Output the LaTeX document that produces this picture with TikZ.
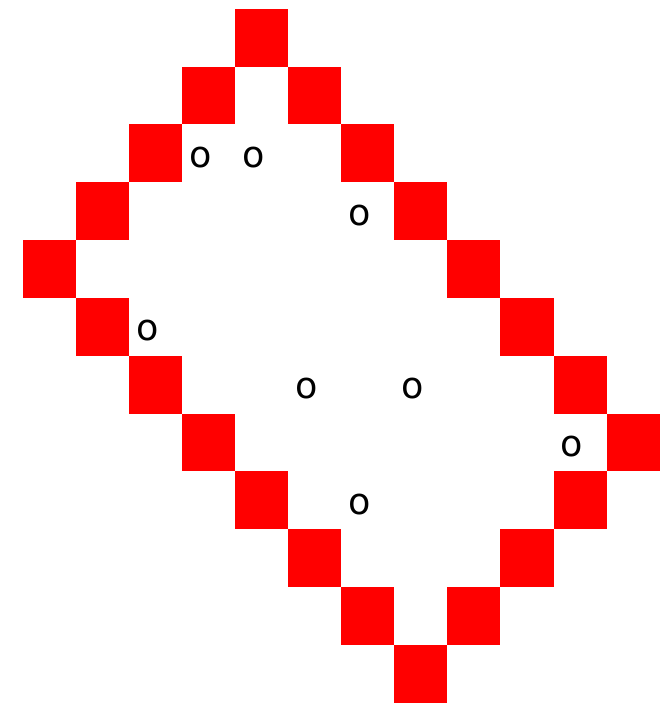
\documentclass[tikz,border=0pt]{standalone}
\usepackage{fontspec}
\setmainfont{DejaVu Sans}
\usetikzlibrary{positioning}

\begin{document}
\begin{tikzpicture}[
  x=0.5308cm, y=-0.5783cm,
  cell/.style={rectangle, fill=red, draw=none, minimum width=0.5308cm,
               minimum height=0.5783cm, inner sep=0pt, anchor=north west},
  stone/.style={font=\fontsize{10.4}{12}\selectfont, inner sep=0pt}
]
  \useasboundingbox (-0.4145,-0.1383) rectangle (12.113,12.035);
  % wall of red cells (column/row)
  \foreach \c/\r [count=\i] in {4/0, 3/1, 5/1, 2/2, 6/2, 1/3, 7/3, 0/4, 8/4,
      1/5, 9/5, 2/6, 10/6, 3/7, 11/7, 4/8, 10/8, 5/9, 9/9, 6/10, 8/10, 7/11}
    \node[cell] (w\i) at (\c,\r) {};
  % stones inside the wall
  \foreach \c/\r [count=\i] in {3/2, 4/2, 6/3, 2/5, 5/6, 7/6, 10/7, 6/8}
    \node[stone] (o\i) at (\c+0.36,\r+0.58) {o};
\end{tikzpicture}
\end{document}
